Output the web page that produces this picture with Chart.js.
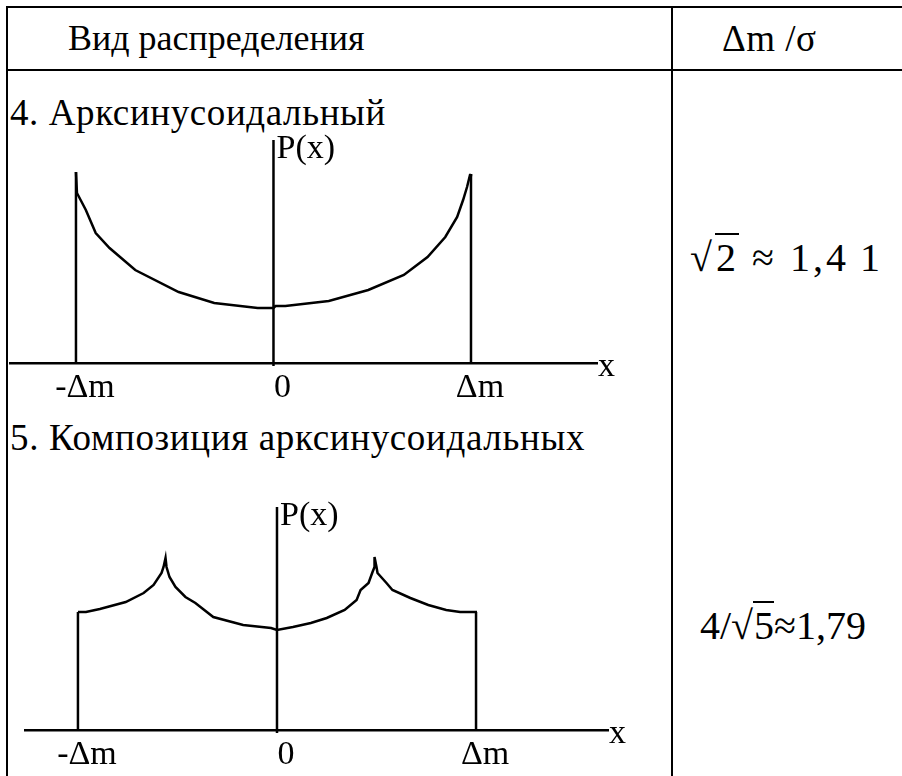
<!DOCTYPE html>
<html>
<head>
<meta charset="utf-8">
<script src="https://cdn.jsdelivr.net/npm/chart.js@4/dist/chart.umd.min.js"></script>
<style>
  html, body { margin: 0; padding: 0; background: #fff; overflow: hidden; }
  body { width: 902px; height: 776px; position: relative; font-family: "Liberation Serif", "Times New Roman", serif; color: #000; }
  .ln { position: absolute; background: #000; }
  .txt { position: absolute; line-height: 1; white-space: nowrap; }
  canvas { position: absolute; left: 0; }
  .root { border-top: 2px solid #000; padding-left: 1px; }
</style>
</head>
<body>
<div class="ln" style="left:6px;top:6px;width:896px;height:2px"></div>
<div class="ln" style="left:6px;top:69px;width:896px;height:2px"></div>
<div class="ln" style="left:6px;top:6px;width:2px;height:770px"></div>
<div class="ln" style="left:671px;top:6px;width:2px;height:770px"></div>

<div class="txt" style="left:68px;top:20px;font-size:36px">Вид распределения</div>
<div class="txt" style="left:722px;top:20px;font-size:37px;letter-spacing:0.5px">Δm /σ</div>
<div class="txt" style="left:10px;top:94px;font-size:37px;letter-spacing:0.6px">4. Арксинусоидальный</div>
<div class="txt" style="left:10px;top:419px;font-size:37px;letter-spacing:0.65px">5. Композиция арксинусоидальных</div>
<div class="txt" style="left:690px;top:238px;font-size:40px;letter-spacing:3px">√<span class="root">2</span>&nbsp;≈&nbsp;1,4&thinsp;1</div>
<div class="txt" style="left:700px;top:606px;font-size:40px">4/√<span class="root">5</span>≈1,79</div>

<canvas id="arcsin" width="672" height="320" style="top:100px"></canvas>
<canvas id="compos" width="672" height="320" style="top:467px"></canvas>

<script>
// x in units of Δm, P(x) in arbitrary units
const tickValues = [-1, 0, 1];
const tickLabels = ["-Δm", "0", "Δm"];

// 4. arcsine distribution
const arcX = [-1.00, -0.995, -0.95, -0.90, -0.83, -0.70, -0.48, -0.30, -0.08, 0.00,
              0.01, 0.06, 0.28, 0.48, 0.66, 0.78, 0.87, 0.93, 0.96, 0.98, 0.995, 1.00];
const arcP = [1.91, 1.70, 1.53, 1.30, 1.15, 0.93, 0.71, 0.60, 0.55, 0.55,
              0.57, 0.57, 0.62, 0.73, 0.88, 1.06, 1.26, 1.46, 1.63, 1.76, 1.88, 1.89];
const arcEdgeX = [-1, 0, 1];
const arcEdgeTop = [1.91, 2.23, 1.89];

// 5. composition of arcsine distributions
const compX = [-1.00, -0.96, -0.89, -0.76, -0.67, -0.62, -0.58, -0.57, -0.56, -0.555, -0.54,
               -0.51, -0.46, -0.41, -0.32, -0.17, -0.03, 0.00, 0.08, 0.17, 0.25, 0.34,
               0.40, 0.42, 0.46, 0.48, 0.49, 0.49, 0.50, 0.505, 0.55, 0.58, 0.67, 0.76,
               0.85, 0.92, 1.005];
const compP = [1.18, 1.18, 1.21, 1.28, 1.37, 1.45, 1.57, 1.63, 1.72, 1.63, 1.53,
               1.43, 1.33, 1.27, 1.13, 1.05, 1.02, 1.00, 1.03, 1.07, 1.12, 1.20,
               1.30, 1.40, 1.47, 1.58, 1.63, 1.73, 1.63, 1.57, 1.47, 1.40, 1.32, 1.25,
               1.20, 1.18, 1.18];
const compEdgeX = [-1, 0, 1];
const compEdgeTop = [1.18, 2.23, 1.18];

const FONT = "Liberation Serif";

const axisLabels = {
  id: "axisLabels",
  afterDraw(chart) {
    const { ctx, chartArea, scales } = chart;
    const top = chart.options.plugins.axisLabels.pTop;
    ctx.save();
    ctx.fillStyle = "#000";
    ctx.font = "34px '" + FONT + "'";
    ctx.textBaseline = "top";
    ctx.fillText("P(x)", scales.x.getPixelForValue(0) + 3, scales.y.getPixelForValue(top) - 8);
    ctx.textBaseline = "middle";
    ctx.fillText("x", chartArea.right + 1, chartArea.bottom + 4);
    ctx.restore();
  }
};

function pairs(xs, ys) {
  return xs.map((x, i) => ({ x: x, y: ys[i] }));
}

function makeChart(id, xs, ps, edgeX, edgeTop, xMin, xMax, padLeft, padRight) {
  const datasets = [{ data: pairs(xs, ps) }];
  edgeX.forEach((x, i) => {
    // the P(x) axis pokes slightly below the x axis, like a tick
    const base = x === 0 ? -0.03 : 0;
    datasets.push({ data: [{ x: x, y: base }, { x: x, y: edgeTop[i] }] });
  });
  datasets.forEach(ds => {
    ds.showLine = true;
    ds.borderColor = "#000";
    ds.borderWidth = 2.5;
    ds.pointRadius = 0;
    ds.tension = 0;
    ds.fill = false;
    ds.clip = false;
  });
  return new Chart(document.getElementById(id), {
    type: "scatter",
    data: { datasets: datasets },
    plugins: [axisLabels],
    options: {
      responsive: false,
      devicePixelRatio: 1,
      animation: false,
      layout: { padding: { left: padLeft, right: padRight, top: 30, bottom: 0 } },
      plugins: {
        legend: { display: false },
        tooltip: { enabled: false },
        axisLabels: { pTop: edgeTop[1] }
      },
      scales: {
        x: {
          type: "linear",
          min: xMin,
          max: xMax,
          grid: { display: false, drawTicks: false },
          border: { display: true, color: "#000", width: 2.5 },
          afterBuildTicks: (scale) => {
            scale.ticks = tickValues.map(v => ({ value: v }));
          },
          afterFit: (scale) => { scale.height = 57; },
          ticks: {
            autoSkip: false,
            maxRotation: 0,
            padding: 5,
            labelOffset: 9,
            color: "#000",
            font: { family: FONT, size: 34 },
            callback: (v) => tickLabels[tickValues.indexOf(v)]
          }
        },
        y: { display: false, min: 0, max: 2.33 }
      }
    }
  });
}

makeChart("arcsin", arcX, arcP, arcEdgeX, arcEdgeTop, -1.334, 1.638, 10, 75);
makeChart("compos", compX, compP, compEdgeX, compEdgeTop, -1.266, 1.663, 25, 64);
</script>
</body>
</html>
